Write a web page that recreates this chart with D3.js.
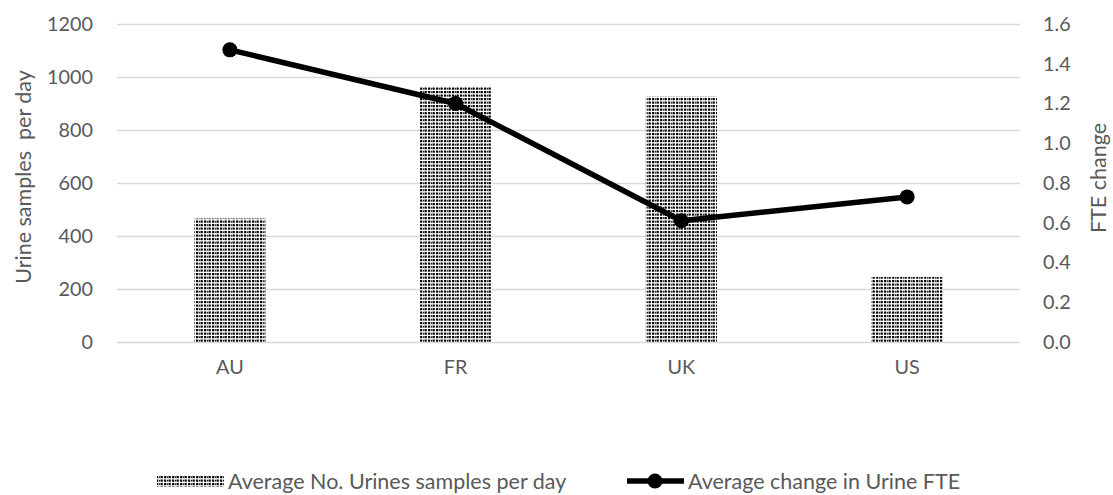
<!DOCTYPE html>
<html>
<head>
<meta charset="utf-8">
<script src="https://cdn.jsdelivr.net/npm/d3@7"></script>
<style>
  html, body { margin: 0; padding: 0; background: #fff; }
  svg { display: block; font-family: Lato, "Open Sans", sans-serif; }
</style>
</head>
<body>
<svg id="chart" width="1113" height="495"></svg>
<script>
// Chart data
const categories = ["AU", "FR", "UK", "US"];
const samplesPerDay = [466, 962, 926, 245];
const fteChange = [1.47, 1.20, 0.61, 0.73];
const leftTicks = [0, 200, 400, 600, 800, 1000, 1200];
const rightTicks = [0, 0.2, 0.4, 0.6, 0.8, 1.0, 1.2, 1.4, 1.6];
const barSeriesName = "Average No. Urines samples per day";
const lineSeriesName = "Average change in Urine FTE";
const leftTitle = "Urine samples  per day";
const rightTitle = "FTE change";

const svg = d3.select("#chart");
const textColor = "#595959";
const gridColor = "#d9d9d9";
const tickFont = 19.8;
const labelFont = 21.5;
const fontFamily = "Lato, 'Open Sans', sans-serif";

const plot = { left: 117, right: 1020, top: 24, bottom: 342 };

const x = d3.scaleBand()
  .domain(categories)
  .range([plot.left, plot.right])
  .paddingInner(0.685)
  .paddingOuter(0.3425);

const yLeft = d3.scaleLinear().domain([0, 1200]).range([plot.bottom, plot.top]);
const yRight = d3.scaleLinear().domain([0, 1.6]).range([plot.bottom, plot.top]);

// Dotted fill used for the bars
const defs = svg.append("defs");
const pat = defs.append("pattern")
  .attr("id", "dots")
  .attr("patternUnits", "userSpaceOnUse")
  .attr("width", 8).attr("height", 7);
pat.append("rect").attr("width", 8).attr("height", 7).attr("fill", "#fff");
[[0.5, 0], [4, 0], [0.5, 3.5], [4, 3.5]].forEach(([px, py]) => {
  pat.append("rect").attr("x", px).attr("y", py).attr("width", 2.3).attr("height", 2.2).attr("fill", "#000");
});
[0, 3.5].forEach(py => {
  pat.append("rect").attr("x", 7).attr("y", py + 0.3).attr("width", 1).attr("height", 1.8).attr("fill", "#222");
});

// Gridlines
svg.append("g")
  .selectAll("line")
  .data(leftTicks)
  .join("line")
  .attr("x1", plot.left).attr("x2", plot.right)
  .attr("y1", d => yLeft(d) + 0.5).attr("y2", d => yLeft(d) + 0.5)
  .attr("stroke", gridColor)
  .attr("stroke-width", 1.5);

function styleAxisText(g) {
  g.select(".domain").remove();
  g.selectAll("text")
    .attr("fill", textColor)
    .attr("font-size", tickFont)
    .attr("font-family", fontFamily);
}

// Left axis
svg.append("g")
  .attr("transform", `translate(${plot.left - 24},0)`)
  .call(d3.axisLeft(yLeft).tickValues(leftTicks).tickSize(0).tickPadding(0).tickFormat(d3.format("d")))
  .call(styleAxisText);

// Right axis
svg.append("g")
  .attr("transform", `translate(${plot.right + 23},0)`)
  .call(d3.axisRight(yRight).tickValues(rightTicks).tickSize(0).tickPadding(0).tickFormat(d3.format(".1f")))
  .call(styleAxisText);

// Bars
svg.append("g")
  .selectAll("rect")
  .data(categories.map((c, i) => ({ c, v: samplesPerDay[i] })))
  .join("rect")
  .attr("x", d => x(d.c))
  .attr("y", d => yLeft(d.v))
  .attr("width", x.bandwidth())
  .attr("height", d => yLeft(0) - yLeft(d.v))
  .attr("fill", "url(#dots)");

// Category axis
svg.append("g")
  .attr("transform", `translate(0,${plot.bottom + 18})`)
  .call(d3.axisBottom(x).tickSize(0).tickPadding(0))
  .call(styleAxisText);

// Line series
const lineData = categories.map((c, i) => ({ c, v: fteChange[i] }));
const line = d3.line()
  .x(d => x(d.c) + x.bandwidth() / 2)
  .y(d => yRight(d.v));
svg.append("path")
  .datum(lineData)
  .attr("d", line)
  .attr("fill", "none")
  .attr("stroke", "#000")
  .attr("stroke-width", 5.5)
  .attr("stroke-linejoin", "round");
svg.append("g")
  .selectAll("circle")
  .data(lineData)
  .join("circle")
  .attr("cx", d => x(d.c) + x.bandwidth() / 2)
  .attr("cy", d => yRight(d.v))
  .attr("r", 7.5)
  .attr("fill", "#000");

// Axis titles
svg.append("text")
  .attr("transform", `translate(31,${(plot.top + plot.bottom) / 2 - 6}) rotate(-90)`)
  .attr("text-anchor", "middle")
  .attr("fill", textColor)
  .attr("font-size", labelFont)
  .style("white-space", "pre")
  .text(leftTitle);
svg.append("text")
  .attr("transform", `translate(1106,${(plot.top + plot.bottom) / 2 - 5}) rotate(-90)`)
  .attr("text-anchor", "middle")
  .attr("fill", textColor)
  .attr("font-size", labelFont)
  .text(rightTitle);

// Legend
const legendY = 481;
const legend = svg.append("g");
legend.append("rect")
  .attr("x", 157).attr("y", legendY - 6)
  .attr("width", 67).attr("height", 12)
  .attr("fill", "url(#dots)");
legend.append("text")
  .attr("x", 228).attr("y", legendY)
  .attr("dy", "0.35em")
  .attr("fill", textColor)
  .attr("font-size", labelFont)
  .text(barSeriesName);
legend.append("line")
  .attr("x1", 627).attr("x2", 684)
  .attr("y1", legendY).attr("y2", legendY)
  .attr("stroke", "#000").attr("stroke-width", 5.5);
legend.append("circle")
  .attr("cx", 655).attr("cy", legendY).attr("r", 7.5).attr("fill", "#000");
legend.append("text")
  .attr("x", 688).attr("y", legendY)
  .attr("dy", "0.35em")
  .attr("fill", textColor)
  .attr("font-size", labelFont)
  .text(lineSeriesName);
</script>
</body>
</html>
